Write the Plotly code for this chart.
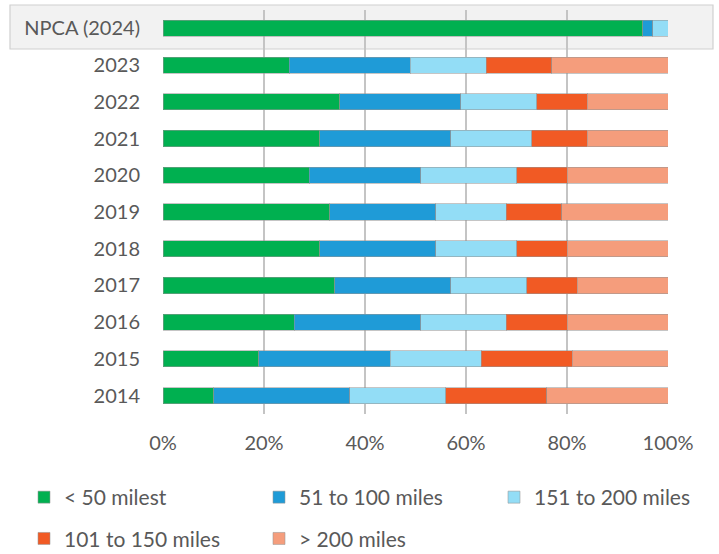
import plotly.graph_objects as go

categories = ["NPCA (2024)", "2023", "2022", "2021", "2020", "2019",
              "2018", "2017", "2016", "2015", "2014"]

series_names = ["< 50 milest", "51 to 100 miles", "151 to 200 miles",
                "101 to 150 miles", "> 200 miles"]

lt50 =      [95, 25, 35, 31, 29, 33, 31, 34, 26, 19, 10]
m51_100 =   [2, 24, 24, 26, 22, 21, 23, 23, 25, 26, 27]
m151_200 =  [3, 15, 15, 16, 19, 14, 16, 15, 17, 18, 19]
m101_150 =  [0, 13, 10, 11, 10, 11, 10, 10, 12, 18, 20]
gt200 =     [0, 23, 16, 16, 20, 21, 20, 18, 20, 19, 24]

x_ticks = [0, 20, 40, 60, 80, 100]
x_tick_labels = ["0%", "20%", "40%", "60%", "80%", "100%"]

colors = ["#00B050", "#1F9BD7", "#93DDF6", "#F15A24", "#F59D7C"]
series_values = [lt50, m51_100, m151_200, m101_150, gt200]
legend_ids = ["legend", "legend2", "legend3", "legend", "legend2"]

FONT = "Lato"
TXT = "#595959"

fig = go.Figure()
for i, (name, vals) in enumerate(zip(series_names, series_values)):
    fig.add_trace(go.Bar(
        y=categories, x=vals, name=name, orientation="h",
        marker=dict(color=colors[i], line=dict(color="rgba(150,150,150,0.55)", width=1)),
        legend=legend_ids[i], legendgroup="g%d" % i,
    ))

L, R, T, B = 163, 51, 10, 140
W, H = 719, 554
pw = W - L - R
ph = H - T - B

def px_x(px):
    return (px - L) / pw

def px_y(py):
    return (H - B - py) / ph

legend_common = dict(orientation="v", xanchor="left", yanchor="top",
                     bgcolor="rgba(0,0,0,0)", traceorder="grouped",
                     tracegroupgap=11, font=dict(family=FONT, size=21, color=TXT))

fig.update_layout(
    width=W, height=H,
    barmode="stack", bargap=0.56,
    paper_bgcolor="white", plot_bgcolor="rgba(0,0,0,0)",
    margin=dict(l=L, r=R, t=T, b=B, autoexpand=False),
    font=dict(family=FONT, size=20, color=TXT),
    xaxis=dict(range=[0, 100], tickvals=x_ticks, ticktext=x_tick_labels,
               showgrid=True, gridcolor="#C4C4C4", gridwidth=1.5,
               zeroline=False, showline=False, ticks="",
               ticklabelstandoff=15,
               tickfont=dict(family=FONT, size=20, color=TXT)),
    yaxis=dict(type="category", autorange="reversed", showgrid=False,
               zeroline=False, showline=False, ticks="",
               ticklabelstandoff=22,
               tickfont=dict(family=FONT, size=20, color=TXT)),
    legend=dict(x=px_x(24), y=px_y(477), **legend_common),
    legend2=dict(x=px_x(259), y=px_y(477), **legend_common),
    legend3=dict(x=px_x(494), y=px_y(477), **legend_common),
    shapes=[dict(type="rect", xref="paper", yref="paper",
                 x0=px_x(10), x1=px_x(713), y0=px_y(49), y1=px_y(5),
                 fillcolor="#F2F2F2", line=dict(color="#D0D0D0", width=1.2),
                 layer="below")],
)

fig.write_html("out.html")
